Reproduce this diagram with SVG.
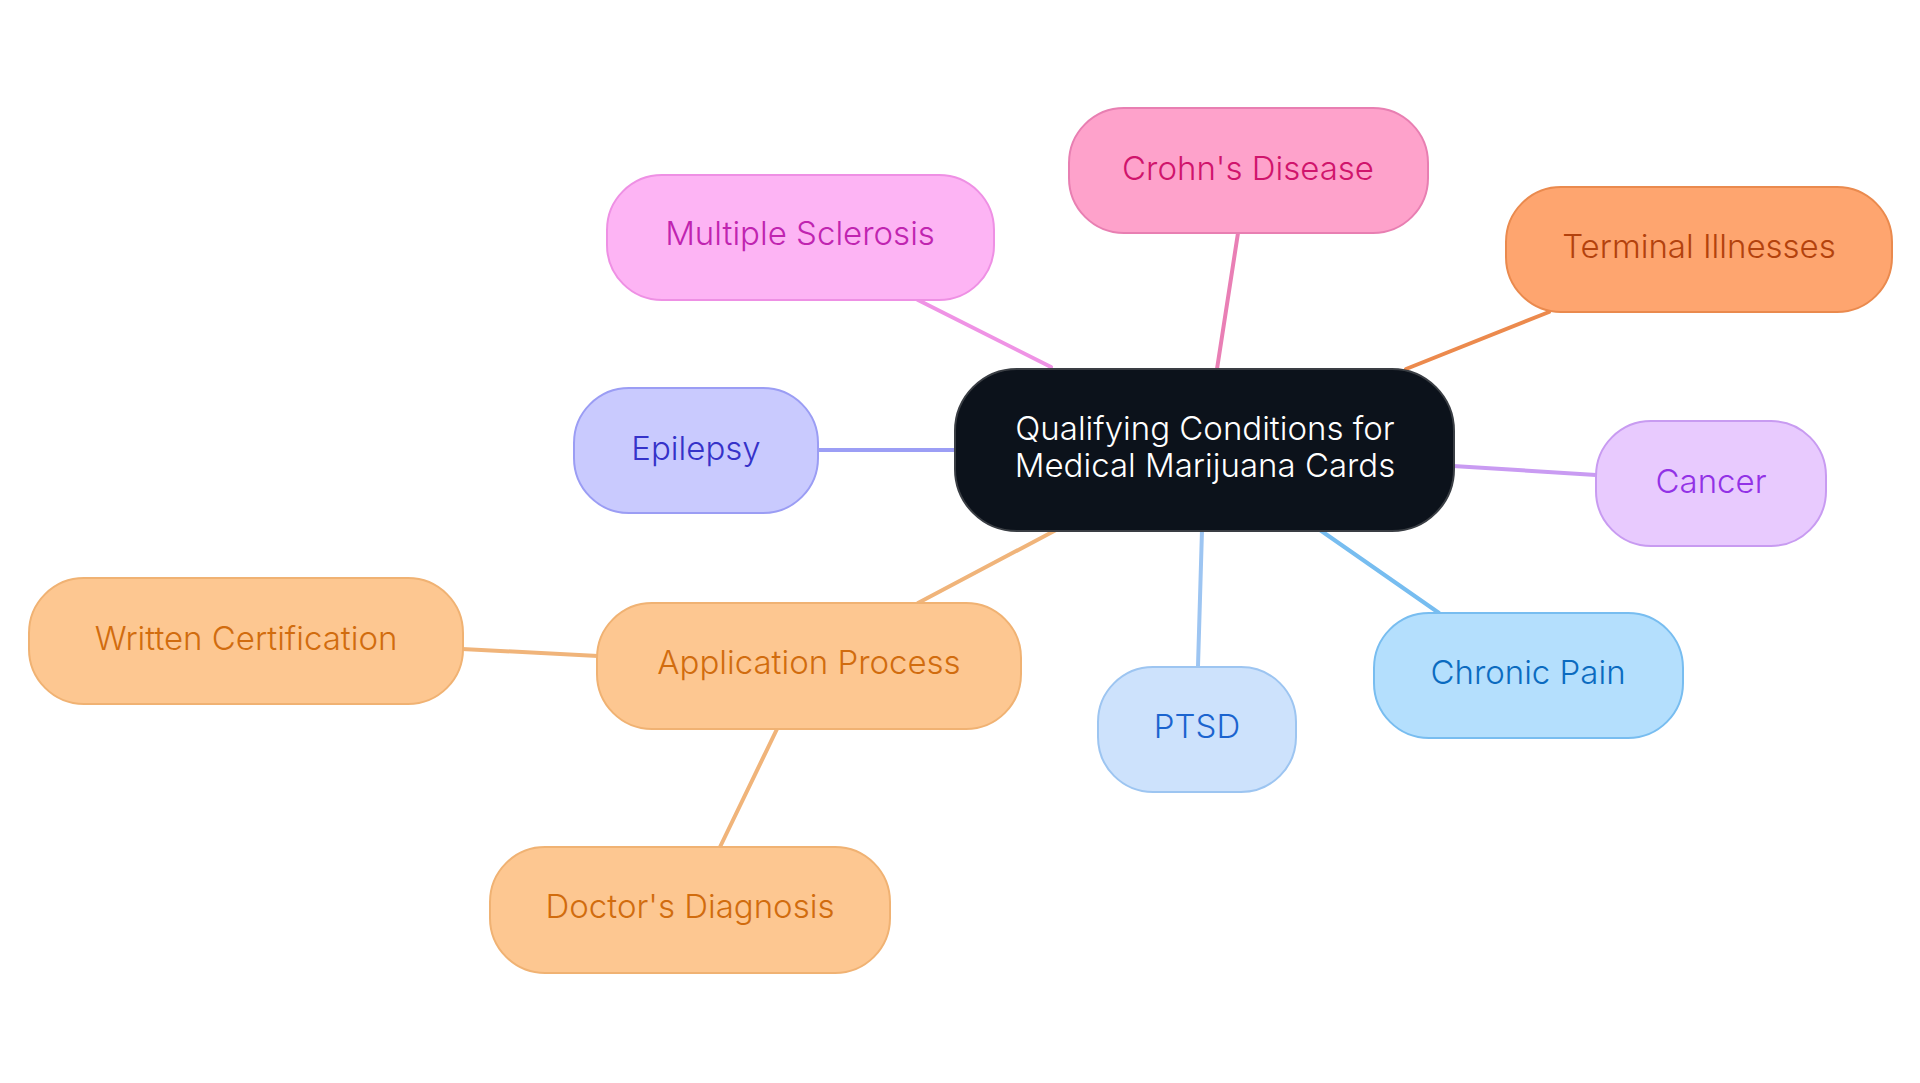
<svg xmlns="http://www.w3.org/2000/svg" width="1920" height="1083" viewBox="0 0 1920 1083">
<style>
text{font-family:Inter,"Noto Sans","Liberation Sans",sans-serif;font-size:33px;font-weight:300;text-anchor:middle}
.n{stroke-width:2}
.e{stroke-width:4;fill:none;stroke-linecap:round}
</style>
<rect width="1920" height="1083" fill="#ffffff"/>
<g id="connectors">
<line class="e" x1="918" y1="300" x2="1051" y2="367" stroke="#ef93e5"/>
<line class="e" x1="1238" y1="233" x2="1217" y2="369" stroke="#e97fb5"/>
<line class="e" x1="1549" y1="312" x2="1406" y2="369" stroke="#ec8a4d"/>
<line class="e" x1="818" y1="450" x2="955" y2="450" stroke="#9c9ef5"/>
<line class="e" x1="1453" y1="466" x2="1596" y2="475" stroke="#c99bf2"/>
<line class="e" x1="1320" y1="530" x2="1439" y2="613" stroke="#77bdf0"/>
<line class="e" x1="1202" y1="530" x2="1198" y2="666" stroke="#9dc5f2"/>
<line class="e" x1="1056" y1="530" x2="918" y2="603" stroke="#f0b47a"/>
<line class="e" x1="462" y1="649" x2="598" y2="656" stroke="#f0b47a" stroke-width="5"/>
<line class="e" x1="777" y1="729" x2="720" y2="847" stroke="#f0b47a"/>
</g>
<g id="center">
<rect class="n" x="955" y="369" width="499" height="162" rx="62" fill="#0c121b" stroke="#3a3e44" stroke-width="3"/>
<text x="1205" y="440" fill="#ffffff">Qualifying Conditions for</text>
<text x="1205" y="477" fill="#ffffff">Medical Marijuana Cards</text>
</g>
<g id="crohns">
<rect class="n" x="1069" y="108" width="359" height="125" rx="55" fill="#fea2cb" stroke="#e87fb2"/>
<text x="1248" y="180" fill="#d0146c">Crohn's Disease</text>
</g>
<g id="ms">
<rect class="n" x="607" y="175" width="387" height="125" rx="55" fill="#fdb4f4" stroke="#ee90e4"/>
<text x="800" y="245" fill="#c024b0">Multiple Sclerosis</text>
</g>
<g id="terminal">
<rect class="n" x="1506" y="187" width="386" height="125" rx="55" fill="#fea56f" stroke="#ea8a4e"/>
<text x="1699" y="258" fill="#b3420d">Terminal Illnesses</text>
</g>
<g id="epilepsy">
<rect class="n" x="574" y="388" width="244" height="125" rx="55" fill="#c9cafe" stroke="#9b9df4"/>
<text x="696" y="460" fill="#3532c9">Epilepsy</text>
</g>
<g id="cancer">
<rect class="n" x="1596" y="421" width="230" height="125" rx="55" fill="#e8cafe" stroke="#c89bf1"/>
<text x="1711" y="493" fill="#9232e6">Cancer</text>
</g>
<g id="chronic">
<rect class="n" x="1374" y="613" width="309" height="125" rx="55" fill="#b4dffd" stroke="#78bdf0"/>
<text x="1528" y="684" fill="#0b6bc0">Chronic Pain</text>
</g>
<g id="ptsd">
<rect class="n" x="1098" y="667" width="198" height="125" rx="55" fill="#cde2fc" stroke="#9dc5f1"/>
<text x="1197" y="738" fill="#1b64cf">PTSD</text>
</g>
<g id="application">
<rect class="n" x="597" y="603" width="424" height="126" rx="55" fill="#fdc791" stroke="#f0b273"/>
<text x="809" y="674" fill="#d16c0e">Application Process</text>
</g>
<g id="written">
<rect class="n" x="29" y="578" width="434" height="126" rx="55" fill="#fdc791" stroke="#f0b273"/>
<text x="246" y="650" fill="#d16c0e">Written Certification</text>
</g>
<g id="doctor">
<rect class="n" x="490" y="847" width="400" height="126" rx="55" fill="#fdc791" stroke="#f0b273"/>
<text x="690" y="918" fill="#d16c0e">Doctor's Diagnosis</text>
</g>
</svg>
